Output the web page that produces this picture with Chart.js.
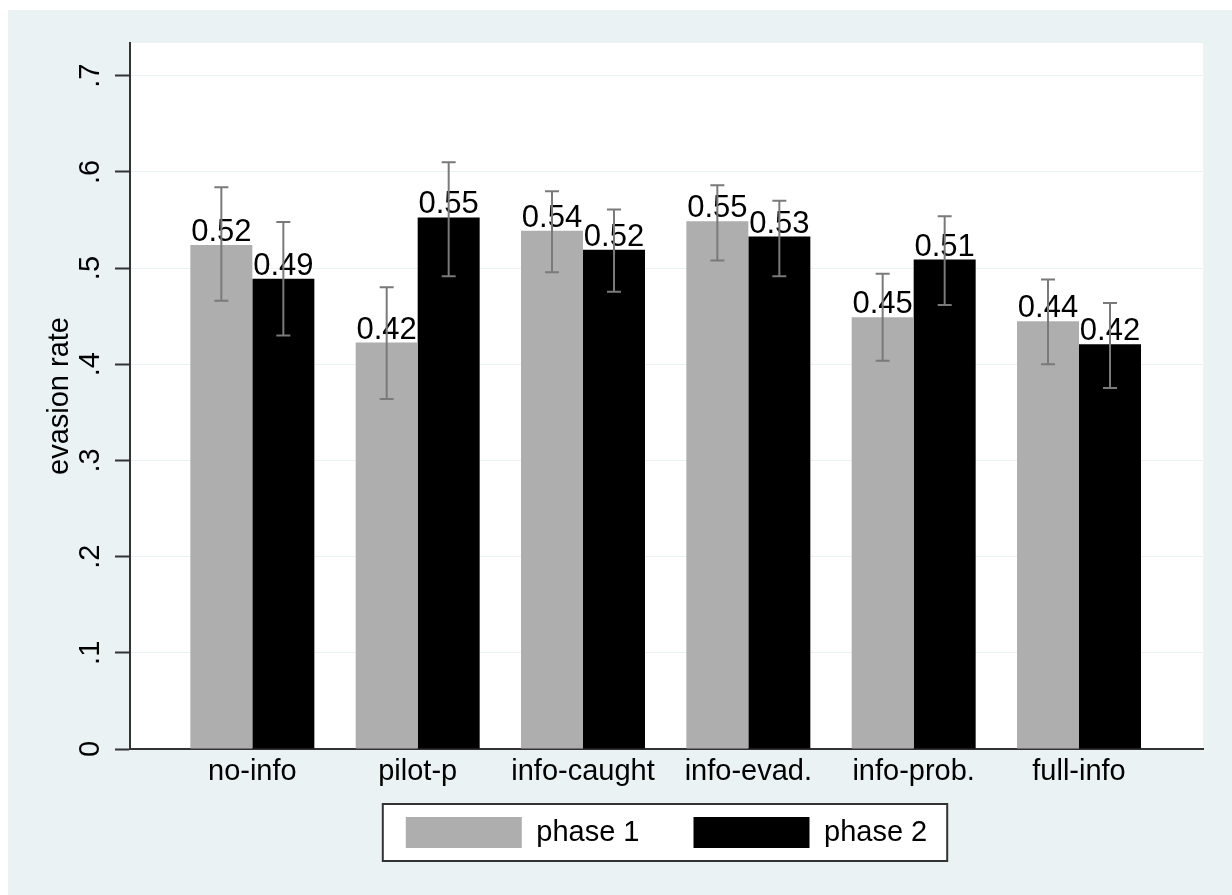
<!DOCTYPE html>
<html>
<head>
<meta charset="utf-8">
<script src="https://cdn.jsdelivr.net/npm/chart.js@4.4.1/dist/chart.umd.min.js"></script>
<style>
  body { margin: 0; background: #fff; }
  canvas { display: block; }
</style>
</head>
<body>
<canvas id="mycanvas" width="1232" height="895"></canvas>
<script>
// categories and mean evasion rates per phase
var categories = ['no-info', 'pilot-p', 'info-caught', 'info-evad.', 'info-prob.', 'full-info'];
var phase1 = [0.524, 0.4225, 0.5387, 0.5487, 0.4488, 0.4447];
var phase2 = [0.489, 0.5526, 0.519, 0.5328, 0.5088, 0.4207];
// confidence interval bounds
var phase1Lo = [0.466, 0.364, 0.4957, 0.508, 0.4037, 0.400];
var phase1Hi = [0.584, 0.480, 0.580, 0.586, 0.494, 0.488];
var phase2Lo = [0.430, 0.4915, 0.4755, 0.4915, 0.4617, 0.3753];
var phase2Hi = [0.548, 0.610, 0.561, 0.570, 0.554, 0.4638];
var yTickValues = [0, 0.1, 0.2, 0.3, 0.4, 0.5, 0.6, 0.7];
var yTickLabels = ['0', '.1', '.2', '.3', '.4', '.5', '.6', '.7'];

var FONT = '"Liberation Sans", Arial, sans-serif';
Chart.defaults.font.family = FONT;
Chart.defaults.color = '#000';

function points(arr) {
  return arr.map(function (v, i) { return { x: i, y: v }; });
}

// stata-like background, white plot region and framed legend
var backdrop = {
  id: 'backdrop',
  afterLayout: function (chart) {
    // pull the legend up closer to the axis labels
    chart.legend.top -= 34;
    chart.legend.bottom -= 34;
  },
  beforeDraw: function (chart) {
    var c = chart.ctx, a = chart.chartArea;
    c.save();
    c.fillStyle = '#fff';
    c.fillRect(0, 0, chart.width, chart.height);
    c.fillStyle = '#eaf2f3';
    c.fillRect(8, 10, chart.width - 8, chart.height - 10);
    c.fillStyle = '#fff';
    c.fillRect(a.left, a.top, a.right - a.left, a.bottom - a.top);
    var hb = chart.legend.legendHitBoxes;
    if (hb && hb.length) {
      var last = hb[hb.length - 1];
      var l = hb[0].left - 23, r = last.left + last.width + 20;
      var t = hb[0].top - 13, b = hb[0].top + hb[0].height + 13;
      c.fillRect(l, t, r - l, b - t);
      c.strokeStyle = '#333';
      c.lineWidth = 2;
      c.strokeRect(l, t, r - l, b - t);
    }
    c.restore();
  }
};

// value labels above bars, then error bars on top
var barExtras = {
  id: 'barExtras',
  afterDatasetsDraw: function (chart) {
    var c = chart.ctx, y = chart.scales.y;
    var lows = [phase1Lo, phase2Lo], highs = [phase1Hi, phase2Hi];
    c.save();
    chart.data.datasets.forEach(function (ds, di) {
      var meta = chart.getDatasetMeta(di);
      meta.data.forEach(function (bar, i) {
        c.font = '31px ' + FONT;
        c.fillStyle = '#000';
        c.textAlign = 'center';
        c.textBaseline = 'alphabetic';
        c.fillText(ds.data[i].y.toFixed(2), bar.x, bar.y - 4);
      });
    });
    chart.data.datasets.forEach(function (ds, di) {
      var meta = chart.getDatasetMeta(di);
      meta.data.forEach(function (bar, i) {
        var top = y.getPixelForValue(highs[di][i]);
        var bot = y.getPixelForValue(lows[di][i]);
        c.strokeStyle = '#7a7a7a';
        c.lineWidth = 2;
        c.beginPath();
        c.moveTo(bar.x, top); c.lineTo(bar.x, bot);
        c.moveTo(bar.x - 7, top); c.lineTo(bar.x + 7, top);
        c.moveTo(bar.x - 7, bot); c.lineTo(bar.x + 7, bot);
        c.stroke();
      });
    });
    c.restore();
  }
};

var ctx = document.getElementById('mycanvas').getContext('2d');
var myBarChart = new Chart(ctx, {
  type: 'bar',
  data: {
    datasets: [
      { label: 'phase 1', data: points(phase1), backgroundColor: '#aeaeae', borderWidth: 0 },
      { label: 'phase 2', data: points(phase2), backgroundColor: '#000000', borderWidth: 0 }
    ]
  },
  options: {
    responsive: false,
    animation: false,
    categoryPercentage: 0.75,
    barPercentage: 1,
    layout: { padding: { left: 0, top: 43, right: 29, bottom: 3 } },
    plugins: {
      legend: {
        position: 'bottom',
        fullSize: false,
        labels: { boxWidth: 116, boxHeight: 31, padding: 54, font: { size: 29 }, color: '#000' }
      },
      tooltip: { enabled: false }
    },
    scales: {
      x: {
        type: 'linear',
        offset: false,
        min: -0.74,
        max: 5.75,
        grid: { display: false, drawTicks: false, offset: false },
        border: { display: true, color: '#333', width: 2 },
        ticks: {
          stepSize: 1,
          includeBounds: false,
          padding: 6,
          font: { size: 29 },
          color: '#000',
          autoSkip: false,
          maxRotation: 0,
          callback: function (v) { return Number.isInteger(v) ? categories[v] : ''; }
        },
        afterFit: function (s) { s.height = 48; }
      },
      y: {
        min: 0,
        max: 0.734,
        grid: { color: '#eaf2f3', lineWidth: 1, tickLength: 15, tickColor: '#333', tickWidth: 2 },
        border: { display: true, color: '#333', width: 2 },
        ticks: {
          stepSize: 0.1,
          includeBounds: false,
          padding: 12,
          minRotation: 90,
          maxRotation: 90,
          crossAlign: 'center',
          font: { size: 29 },
          color: '#000',
          callback: function (v) {
            var k = yTickValues.findIndex(function (t) { return Math.abs(t - v) < 1e-6; });
            return k >= 0 ? yTickLabels[k] : '';
          }
        },
        title: { display: true, text: 'evasion rate', font: { size: 29 }, color: '#000', padding: { top: 43, bottom: 0 } },
        afterFit: function (s) { s.width = 130; }
      }
    }
  },
  plugins: [backdrop, barExtras]
});
</script>
</body>
</html>
